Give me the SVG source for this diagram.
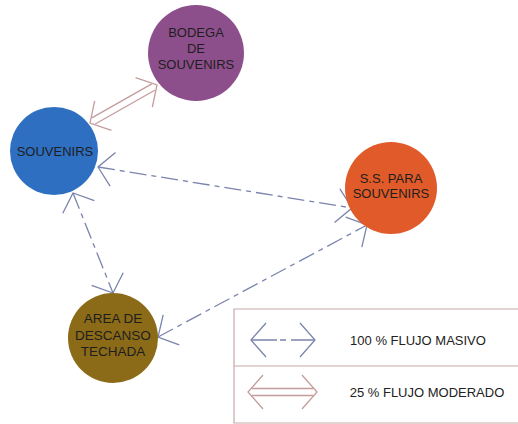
<svg xmlns="http://www.w3.org/2000/svg" width="518" height="424" viewBox="0 0 518 424">
<defs>
<style>
.lbl{font-family:"Liberation Sans",Arial,sans-serif;font-size:13px;fill:#1e1e1e;text-anchor:middle}
.leg{font-family:"Liberation Sans",Arial,sans-serif;font-size:13px;fill:#222;text-anchor:middle}
.flow{fill:none;stroke:#7a84ac;stroke-width:1.3;stroke-dasharray:17 5 5 5}
.mod{fill:none;stroke:#c49c9c;stroke-width:1.3}
.box{fill:none;stroke:#c7a7a7;stroke-width:1.2}
</style>
<marker id="ab" viewBox="-30 -30 60 60" markerWidth="60" markerHeight="60" markerUnits="userSpaceOnUse" refX="0" refY="0" orient="auto-start-reverse" overflow="visible">
<path d="M -15 -17 L 0 0 L -15 17" fill="none" stroke="#7a84ac" stroke-width="1.3" stroke-dasharray="none"/>
</marker>
<marker id="ap" viewBox="-30 -30 60 60" markerWidth="60" markerHeight="60" markerUnits="userSpaceOnUse" refX="0" refY="0" orient="auto-start-reverse" overflow="visible">
<path d="M -15 -17 L 0 0 L -15 17" fill="none" stroke="#c49c9c" stroke-width="1.3"/>
</marker>
</defs>
<rect width="518" height="424" fill="#ffffff"/>

<g id="connectors">
<!-- Bodega - Souvenirs (25% moderado) -->
<path d="M 90 123 L 157 85" fill="none" stroke="none" marker-start="url(#ap)" marker-end="url(#ap)"/>
<line class="mod" x1="95.2" y1="124" x2="155.2" y2="90"/>
<line class="mod" x1="91.8" y1="117.9" x2="151.8" y2="83.9"/>
<!-- Souvenirs - S.S. -->
<path class="flow" d="M 98 167 L 352 208" marker-start="url(#ab)" marker-end="url(#ab)"/>
<!-- Souvenirs - Area -->
<path class="flow" d="M 73 193 L 113 293" marker-start="url(#ab)" marker-end="url(#ab)"/>
<!-- Area - S.S. -->
<path class="flow" d="M 158 337 L 367 225" marker-start="url(#ab)" marker-end="url(#ab)"/>
</g>

<g id="bodega">
<circle cx="196" cy="53" r="48" fill="#8d4f8b"/>
<text class="lbl" x="196" y="37">BODEGA</text>
<text class="lbl" x="196" y="53">DE</text>
<text class="lbl" x="196" y="69">SOUVENIRS</text>
</g>

<g id="souvenirs">
<circle cx="54" cy="151" r="44" fill="#2e6fc1"/>
<text class="lbl" x="55" y="156">SOUVENIRS</text>
</g>

<g id="ss-para-souvenirs">
<circle cx="391" cy="188" r="46" fill="#e15a29"/>
<text class="lbl" x="391" y="183">S.S. PARA</text>
<text class="lbl" x="391" y="198">SOUVENIRS</text>
</g>

<g id="area-descanso">
<circle cx="113" cy="338" r="45" fill="#8b6a18"/>
<text class="lbl" x="113" y="323" style="font-size:13.5px">AREA DE</text>
<text class="lbl" x="113" y="340" style="font-size:13.5px">DESCANSO</text>
<text class="lbl" x="113" y="356" style="font-size:13.5px">TECHADA</text>
</g>

<g id="legend">
<path class="box" d="M 530 309 L 234 309 L 234 423 L 530 423 M 234 366 L 530 366"/>
<path class="flow" d="M 251 340 L 315 340" style="stroke-dasharray:26 3 6 5 30" marker-start="url(#ab)" marker-end="url(#ab)"/>
<text class="leg" x="418" y="345">100 % FLUJO MASIVO</text>
<path d="M 248 392 L 317 392" fill="none" stroke="none" marker-start="url(#ap)" marker-end="url(#ap)"/>
<line class="mod" x1="252" y1="388.5" x2="313" y2="388.5"/>
<line class="mod" x1="252" y1="395.5" x2="313" y2="395.5"/>
<text class="leg" x="427" y="397">25 % FLUJO MODERADO</text>
</g>
</svg>
